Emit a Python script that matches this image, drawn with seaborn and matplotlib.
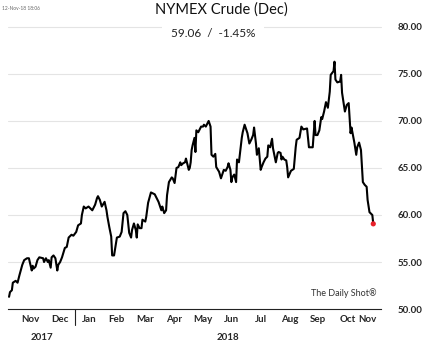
import pandas as pd
import seaborn as sns
import numpy as np
import matplotlib.pyplot as plt
import matplotlib.dates as mdates
import matplotlib.transforms as mtransforms
from matplotlib.ticker import FormatStrFormatter

# NYMEX crude (Dec contract)
dates = [
    '2017-10-23', '2017-10-24', '2017-10-26', '2017-10-27', '2017-10-30',
    '2017-11-01', '2017-11-03', '2017-11-06', '2017-11-08', '2017-11-11', '2017-11-13',
    '2017-11-16', '2017-11-17', '2017-11-18', '2017-11-20', '2017-11-22', '2017-11-24',
    '2017-11-28', '2017-11-29',
    '2017-12-01', '2017-12-03', '2017-12-04', '2017-12-06', '2017-12-07', '2017-12-09',
    '2017-12-11', '2017-12-13', '2017-12-14', '2017-12-16', '2017-12-18', '2017-12-21',
    '2017-12-23', '2017-12-25', '2017-12-28', '2017-12-30',
    '2018-01-02', '2018-01-04', '2018-01-07', '2018-01-08', '2018-01-10', '2018-01-12',
    '2018-01-15', '2018-01-17', '2018-01-19', '2018-01-22', '2018-01-24', '2018-01-25',
    '2018-01-27', '2018-01-29',
    '2018-02-01', '2018-02-03', '2018-02-04', '2018-02-06', '2018-02-08', '2018-02-09',
    '2018-02-11', '2018-02-13', '2018-02-14', '2018-02-17', '2018-02-19', '2018-02-21',
    '2018-02-23', '2018-02-25', '2018-02-27',
    '2018-03-01', '2018-03-02', '2018-03-04', '2018-03-06', '2018-03-07', '2018-03-08',
    '2018-03-10', '2018-03-12', '2018-03-13', '2018-03-16', '2018-03-17', '2018-03-19',
    '2018-03-22', '2018-03-24', '2018-03-26', '2018-03-28', '2018-03-30',
    '2018-04-02', '2018-04-03', '2018-04-05', '2018-04-07', '2018-04-08', '2018-04-10',
    '2018-04-13', '2018-04-14', '2018-04-16', '2018-04-18', '2018-04-20', '2018-04-22',
    '2018-04-23', '2018-04-25', '2018-04-27', '2018-04-28',
    '2018-05-01', '2018-05-02', '2018-05-03', '2018-05-04', '2018-05-05', '2018-05-07',
    '2018-05-08', '2018-05-09', '2018-05-11', '2018-05-14', '2018-05-16', '2018-05-17',
    '2018-05-19', '2018-05-21', '2018-05-22', '2018-05-24', '2018-05-25', '2018-05-27',
    '2018-05-29', '2018-05-30',
    '2018-06-02', '2018-06-04', '2018-06-05', '2018-06-07', '2018-06-09', '2018-06-11',
    '2018-06-12', '2018-06-14', '2018-06-15', '2018-06-16', '2018-06-18', '2018-06-20',
    '2018-06-21', '2018-06-23', '2018-06-26', '2018-06-27', '2018-06-29',
    '2018-07-02', '2018-07-04', '2018-07-06', '2018-07-08', '2018-07-09', '2018-07-11',
    '2018-07-12', '2018-07-14', '2018-07-16', '2018-07-17', '2018-07-19', '2018-07-21',
    '2018-07-23', '2018-07-24', '2018-07-26', '2018-07-28', '2018-07-29',
    '2018-08-01', '2018-08-03', '2018-08-04', '2018-08-06', '2018-08-07', '2018-08-08',
    '2018-08-10', '2018-08-12', '2018-08-13', '2018-08-14', '2018-08-17', '2018-08-20',
    '2018-08-22', '2018-08-23', '2018-08-26', '2018-08-28', '2018-08-30',
    '2018-09-03', '2018-09-05', '2018-09-07', '2018-09-09', '2018-09-11', '2018-09-12',
    '2018-09-14', '2018-09-16', '2018-09-18', '2018-09-19', '2018-09-21', '2018-09-23',
    '2018-09-25', '2018-09-27', '2018-09-28',
    '2018-10-01', '2018-10-02', '2018-10-03', '2018-10-05', '2018-10-08', '2018-10-09',
    '2018-10-10', '2018-10-13', '2018-10-15', '2018-10-17', '2018-10-19', '2018-10-20',
    '2018-10-23', '2018-10-25', '2018-10-26', '2018-10-28', '2018-10-30',
    '2018-11-01', '2018-11-03', '2018-11-05', '2018-11-06', '2018-11-08', '2018-11-11',
    '2018-11-12',
]
prices = [
    51.3, 51.8, 52.0, 52.8, 53.0,
    52.8, 53.6, 54.7, 55.2, 55.4, 55.4,
    54.1, 54.6, 54.3, 54.5, 55.2, 55.5,
    55.4, 55.0,
    55.4, 55.0, 55.2, 54.4, 55.5, 55.7,
    55.4, 54.1, 54.7, 55.0, 55.5, 56.5,
    56.6, 57.6, 57.9, 57.8,
    58.2, 58.9, 59.1, 60.0, 60.9, 60.7,
    60.9, 60.7, 60.5, 61.1, 61.8, 62.0,
    61.6, 60.9,
    61.4, 60.5, 59.8, 58.7, 57.7, 55.7,
    55.7, 57.0, 57.6, 57.7, 58.2, 60.2,
    60.4, 60.0, 58.1,
    57.6, 58.4, 59.1, 58.4, 57.6, 59.0,
    58.6, 58.6, 59.5, 59.3, 59.8, 61.3,
    62.4, 62.3, 62.2, 61.8, 61.4,
    60.5, 60.9, 60.2, 60.5, 62.1, 63.5,
    64.0, 63.9, 63.4, 65.0, 65.1, 65.6,
    65.3, 65.5, 65.6, 66.0,
    64.8, 65.0, 65.6, 66.9, 67.4, 68.2,
    66.7, 69.0, 68.8, 69.4, 69.4, 69.6,
    69.4, 69.8, 70.0, 69.4, 66.4, 66.2,
    66.5, 65.1,
    64.6, 63.9, 64.2, 64.8, 64.7, 65.1,
    65.5, 64.8, 63.5, 64.0, 64.3, 63.5,
    65.9, 65.6, 68.2, 68.8, 69.6,
    68.7, 67.6, 68.0, 68.5, 69.3, 67.6,
    66.4, 67.1, 64.8, 65.1, 65.6, 66.0,
    66.2, 67.4, 67.2, 68.1, 67.1,
    65.6, 66.6, 66.7, 66.6, 65.9, 66.2,
    65.9, 65.8, 65.1, 64.0, 64.7, 64.9,
    67.2, 68.0, 68.2, 69.4, 69.1,
    69.2, 67.2, 67.2, 67.2, 70.0, 68.5,
    68.5, 69.0, 70.4, 70.2, 71.0, 72.0,
    71.4, 73.1, 74.9,
    75.3, 76.3, 74.4, 74.1, 74.2, 74.9,
    73.0, 71.0, 71.7, 71.9, 68.7, 69.3,
    67.7, 66.4, 67.2, 67.7, 66.9,
    63.5, 63.2, 63.0, 61.6, 60.3, 60.0,
    59.06,
]
title = 'NYMEX Crude (Dec)'
subtitle = '59.06  /  -1.45%'
stamp = '12-Nov-18 18:06'
yticks = [50, 55, 60, 65, 70, 75, 80]
month_labels = ['Nov', 'Dec', 'Jan', 'Feb', 'Mar', 'Apr', 'May', 'Jun',
                'Jul', 'Aug', 'Sep', 'Oct', 'Nov']
month_label_dates = ['2017-11-15', '2017-12-16', '2018-01-16', '2018-02-14', '2018-03-16',
                     '2018-04-15', '2018-05-16', '2018-06-15', '2018-07-16', '2018-08-16',
                     '2018-09-15', '2018-10-16', '2018-11-06']
month_starts = pd.date_range('2017-11-01', '2018-11-01', freq='MS')

df = pd.DataFrame({'date': pd.to_datetime(dates), 'price': prices})

sns.set_style('white')
plt.rcParams['font.family'] = ['Lato', 'DejaVu Sans']

fig = plt.figure(figsize=(4.26, 3.54), dpi=100)
ax = fig.add_axes([0.019, 0.127, 0.875, 0.797])

for y in yticks[1:]:
    ax.axhline(y, color='#e4e4e4', lw=0.8, zorder=0, clip_on=False)

sns.lineplot(data=df, x='date', y='price', color='black', lw=1.5, ax=ax)
last = df.iloc[[-1]]
sns.scatterplot(data=last, x='date', y='price', color='#e8212b', s=14,
                edgecolor='none', ax=ax, zorder=5)

ax.set_xlim(pd.Timestamp('2017-10-22'), pd.Timestamp('2018-11-20'))
ax.set_ylim(50, 80)
ax.set_xlabel('')
ax.set_ylabel('')

for s in ['top', 'left', 'right']:
    ax.spines[s].set_visible(False)
ax.spines['bottom'].set_color('#222222')
ax.spines['bottom'].set_linewidth(0.8)

ax.yaxis.tick_right()
ax.set_yticks(yticks)
ax.yaxis.set_major_formatter(FormatStrFormatter('%.2f'))
ax.tick_params(axis='y', length=0, pad=12, labelsize=7)
for lab in ax.get_yticklabels():
    lab.set_fontweight('bold')

ax.set_xticks(month_starts)
ax.set_xticks(pd.to_datetime(month_label_dates), minor=True)
ax.set_xticklabels([])
ax.set_xticklabels(month_labels, minor=True)
ax.tick_params(axis='x', which='major', direction='inout', length=3, width=0.6,
               color='#444444')
ax.tick_params(axis='x', which='minor', length=0, pad=4, labelsize=7)
for lab in ax.get_xticklabels(minor=True):
    lab.set_fontweight('bold')

# year separator and year labels
trans = mtransforms.blended_transform_factory(ax.transData, ax.transAxes)
jan1 = mdates.date2num(pd.Timestamp('2018-01-01'))
ax.plot([jan1, jan1], [0, -0.055], transform=trans, color='#222222', lw=0.8,
        clip_on=False)
ax.text(mdates.date2num(pd.Timestamp('2017-11-27')), -0.1, '2017', transform=trans,
        ha='center', va='center', fontsize=7, fontweight='bold')
ax.text(mdates.date2num(pd.Timestamp('2018-06-11')), -0.1, '2018', transform=trans,
        ha='center', va='center', fontsize=7, fontweight='bold')

fig.text(0.52, 0.972, title, ha='center', va='center', fontsize=10.5, color='#111111')
fig.text(0.5, 0.906, subtitle, ha='center', va='center', fontsize=8.5, color='#222222',
         bbox=dict(facecolor='white', edgecolor='none', pad=6), zorder=10)
fig.text(0.005, 0.976, stamp, ha='left', va='center', fontsize=3.5, color='#666666')
ax.text(0.99, 0.04, 'The Daily Shot\u00ae', transform=ax.transAxes, ha='right',
        va='bottom', fontsize=6.5, color='#333333')

fig.savefig('out.png', dpi=100)
